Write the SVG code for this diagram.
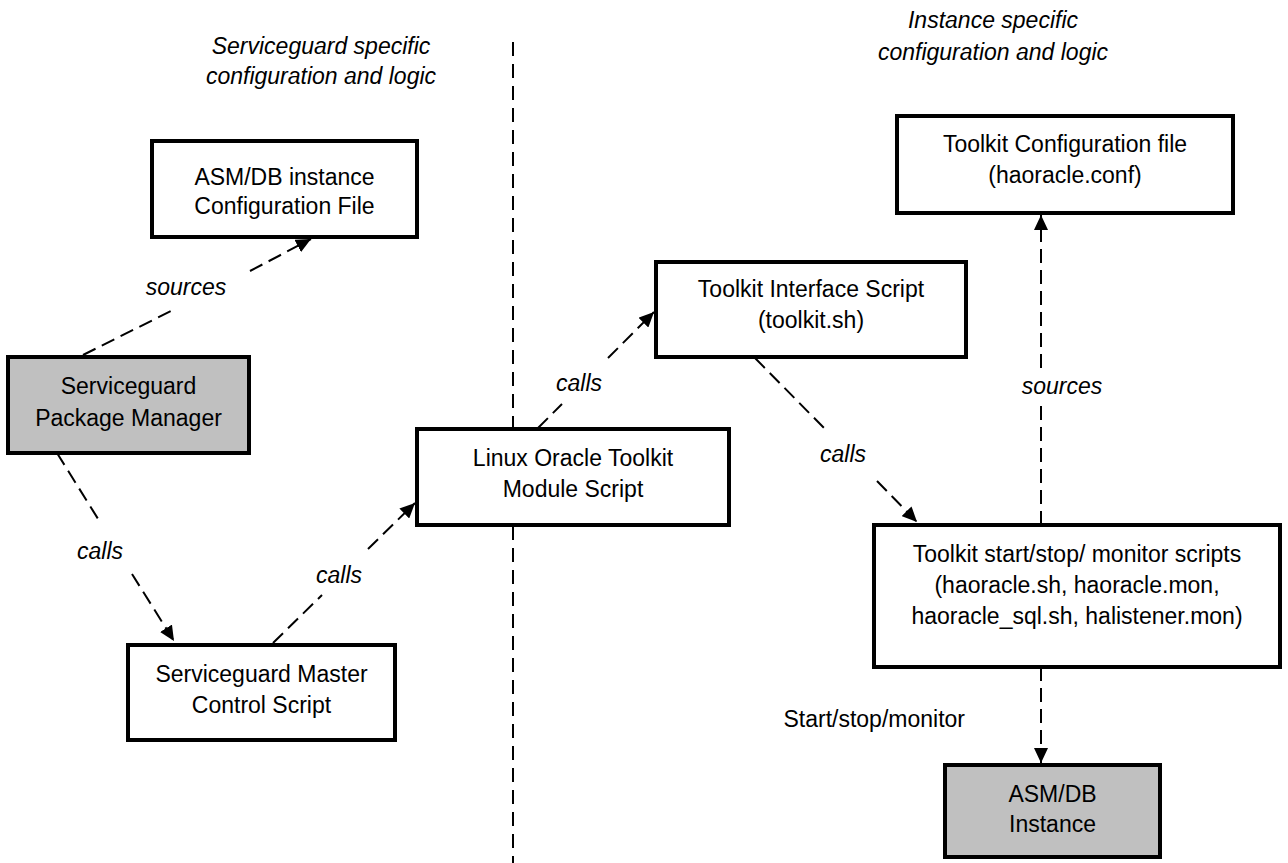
<svg xmlns="http://www.w3.org/2000/svg" width="1288" height="863" viewBox="0 0 1288 863">
<style>
text{font-family:"Liberation Sans",Arial,sans-serif;font-size:23px;fill:#000;text-anchor:middle}
.it{font-style:italic}
.box{fill:#fff;stroke:#000;stroke-width:4}
.gray{fill:#c0c0c0}
.conn{fill:none;stroke:#000;stroke-width:2;stroke-dasharray:14 7}
.div{fill:none;stroke:#000;stroke-width:2;stroke-dasharray:14 8}
</style>
<defs>
<marker id="arr" markerUnits="userSpaceOnUse" markerWidth="16" markerHeight="14" refX="15" refY="7" orient="auto">
<path d="M0,0 L15,7 L0,14 z" fill="#000"/>
</marker>
</defs>
<rect width="1288" height="863" fill="#fff"/>
<g id="divider"><line class="div" x1="513" y1="42" x2="513" y2="863"/></g>
<g id="headers">
<text class="it" x="321" y="54">Serviceguard specific</text>
<text class="it" x="321" y="84">configuration and logic</text>
<text class="it" x="993" y="28">Instance specific</text>
<text class="it" x="993" y="60">configuration and logic</text>
</g>
<g id="connectors">
<path class="conn" d="M83,355 L173,310 M250,271 L311,239" marker-end="url(#arr)"/>
<path class="conn" d="M57,453 L100,522 M132,574 L174,641" marker-end="url(#arr)"/>
<path class="conn" d="M273,643 L322,595 M368,549 L415,503" marker-end="url(#arr)"/>
<path class="conn" d="M538,428 L562,404 M608,358 L654,312" marker-end="url(#arr)"/>
<path class="conn" d="M755,358 L825,429 M877,481 L917,522" marker-end="url(#arr)"/>
<path class="conn" d="M1041,525 L1041,405 M1041,368 L1041,215" marker-end="url(#arr)"/>
<path class="conn" d="M1041,667 L1041,763" marker-end="url(#arr)"/>
<text class="it" x="186" y="295">sources</text>
<text class="it" x="100" y="559">calls</text>
<text class="it" x="339" y="583">calls</text>
<text class="it" x="579" y="391">calls</text>
<text class="it" x="843" y="462">calls</text>
<text class="it" x="1062" y="394">sources</text>
<text x="965" y="727" style="text-anchor:end">Start/stop/monitor</text>
</g>
<g id="asm-config">
<rect class="box" x="152" y="141" width="265" height="96"/>
<text x="284.5" y="185">ASM/DB instance</text>
<text x="284.5" y="214">Configuration File</text>
</g>
<g id="pkg-manager">
<rect class="box gray" x="8" y="357" width="241" height="96"/>
<text x="128.5" y="394">Serviceguard</text>
<text x="128.5" y="426">Package Manager</text>
</g>
<g id="master-control">
<rect class="box" x="128" y="645" width="267" height="95"/>
<text x="261.5" y="682">Serviceguard Master</text>
<text x="261.5" y="713">Control Script</text>
</g>
<g id="module-script">
<rect class="box" x="417" y="429" width="312" height="96"/>
<text x="573" y="466">Linux Oracle Toolkit</text>
<text x="573" y="497">Module Script</text>
</g>
<g id="interface-script">
<rect class="box" x="656" y="262" width="310" height="95"/>
<text x="811" y="297">Toolkit Interface Script</text>
<text x="811" y="328">(toolkit.sh)</text>
</g>
<g id="toolkit-config">
<rect class="box" x="897" y="116" width="336" height="97"/>
<text x="1065" y="152">Toolkit Configuration file</text>
<text x="1065" y="183">(haoracle.conf)</text>
</g>
<g id="start-stop-scripts">
<rect class="box" x="874" y="525" width="406" height="142"/>
<text x="1077" y="562">Toolkit start/stop/ monitor scripts</text>
<text x="1077" y="593">(haoracle.sh, haoracle.mon,</text>
<text x="1077" y="624">haoracle_sql.sh, halistener.mon)</text>
</g>
<g id="asm-instance">
<rect class="box gray" x="945" y="765" width="215" height="92"/>
<text x="1052.5" y="802">ASM/DB</text>
<text x="1052.5" y="832">Instance</text>
</g>
</svg>
